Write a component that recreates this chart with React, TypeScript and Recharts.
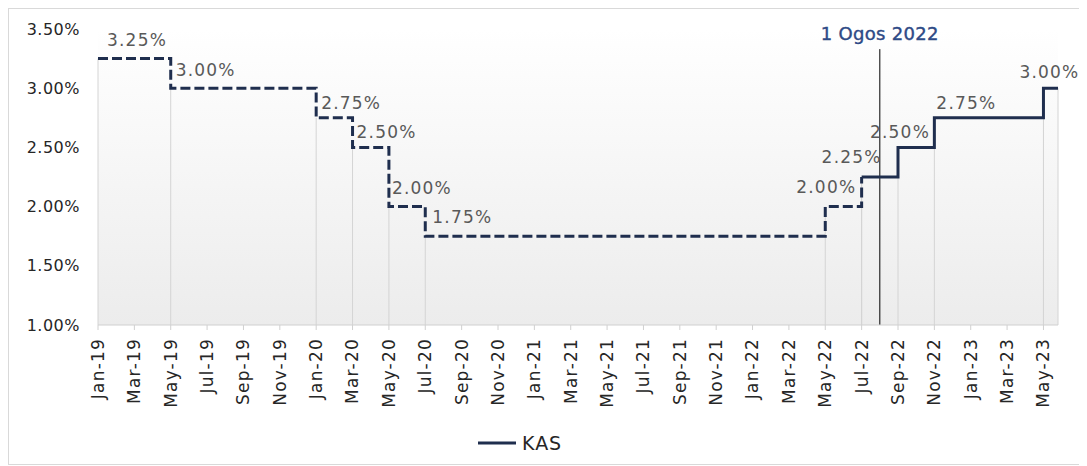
import React from 'react';
import { LineChart, Line, XAxis, YAxis, CartesianGrid, Legend, ReferenceLine, LabelList } from 'recharts';

// month index counted from Jan-19 (0)
const tickLabels = [
  'Jan-19', 'Mar-19', 'May-19', 'Jul-19', 'Sep-19', 'Nov-19',
  'Jan-20', 'Mar-20', 'May-20', 'Jul-20', 'Sep-20', 'Nov-20',
  'Jan-21', 'Mar-21', 'May-21', 'Jul-21', 'Sep-21', 'Nov-21',
  'Jan-22', 'Mar-22', 'May-22', 'Jul-22', 'Sep-22', 'Nov-22',
  'Jan-23', 'Mar-23', 'May-23',
];
const tickMonths = tickLabels.map((_, i) => i * 2);
const rateTicks = [1, 1.5, 2, 2.5, 3, 3.5];

const pastMonths = [0, 4, 12, 14, 16, 18, 40, 42];
const pastRates = [3.25, 3.0, 2.75, 2.5, 2.0, 1.75, 2.0, 2.25];

const currentMonths = [42, 44, 46, 52, 52.8];
const currentRates = [2.25, 2.5, 2.75, 3.0, 3.0];

const markerMonth = 43;
const markerTop = 3.33;
const markerLabel = '1 Ogos 2022';
const seriesName = 'KAS';

const pastData = pastMonths.map((m, i) => ({ m, r: pastRates[i] }));
const currentData = currentMonths.map((m, i) => ({ m, r: currentRates[i] }));
const allPoints = [...pastData, ...currentData];

const navy = '#1f2e4e';
const font = '"DejaVu Sans", Verdana, sans-serif';

// where each value label sits relative to its step
const pastLabelPos = [
  { dx: 9, dy: -19, anchor: 'start' },
  { dx: 5, dy: -18, anchor: 'start' },
  { dx: 5, dy: -15, anchor: 'start' },
  { dx: 4, dy: -15, anchor: 'start' },
  { dx: 3, dy: -19, anchor: 'start' },
  { dx: 7, dy: -19, anchor: 'start' },
  { dx: 31, dy: -20, anchor: 'end' },
  { dx: 20, dy: -20, anchor: 'end' },
];
const currentLabelPos = [
  null,
  { dx: 2, dy: -15, anchor: 'middle' },
  { dx: 2, dy: -15, anchor: 'start' },
  { dx: 6, dy: -16, anchor: 'middle' },
  null,
];

const makeLabel = (positions: any[]) => (props: any) => {
  const { x, y, value, index } = props;
  const p = positions[index];
  if (!p) return null;
  return (
    <text
      x={x + p.dx}
      y={y + p.dy}
      textAnchor={p.anchor}
      dominantBaseline="central"
      fontFamily={font}
      fontSize={17}
      letterSpacing={1.2}
      fill="#595959"
    >
      {`${Number(value).toFixed(2)}%`}
    </text>
  );
};

const MonthTick = (props: any) => {
  const { x, y, payload } = props;
  const label = tickLabels[Math.round(payload.value / 2)];
  return (
    <text
      x={x}
      y={y}
      transform={`rotate(-90, ${x}, ${y})`}
      textAnchor="end"
      dy="0.35em"
      fontFamily={font}
      fontSize={17}
      letterSpacing={1.2}
      fill="#262626"
    >
      {label}
    </text>
  );
};

const renderLegend = () => (
  <div
    style={{
      paddingLeft: 469,
      paddingTop: 8,
      display: 'flex',
      alignItems: 'center',
      fontFamily: font,
      fontSize: 19,
      letterSpacing: 1,
      color: '#262626',
      height: 22,
    }}
  >
    <svg width={38} height={10}>
      <line x1={0} y1={5} x2={38} y2={5} stroke={navy} strokeWidth={3} />
    </svg>
    <span style={{ marginLeft: 6 }}>{seriesName}</span>
  </div>
);

const App: React.FC = () => {
  return (
    <div style={{ width: 1077, height: 455, border: '1px solid #d9d9d9', background: '#ffffff' }}>
      <LineChart width={1077} height={455} margin={{ top: 20, right: 28, left: 0, bottom: 0 }}>
        <defs>
          <linearGradient id="plotBg" x1="0" y1="0" x2="0" y2="1">
            <stop offset="0%" stopColor="#ffffff" />
            <stop offset="100%" stopColor="#ececec" />
          </linearGradient>
        </defs>
        <CartesianGrid horizontal={false} vertical={false} fill="url(#plotBg)" />
        <XAxis
          type="number"
          dataKey="m"
          domain={[0, 52.8]}
          ticks={tickMonths}
          interval={0}
          allowDataOverflow
          height={99}
          tickSize={5}
          tickMargin={8}
          stroke="#d0d0d0"
          tick={<MonthTick />}
        />
        <YAxis
          type="number"
          domain={[1, 3.5]}
          ticks={rateTicks}
          width={89}
          axisLine={false}
          tickLine={false}
          tickMargin={12}
          tickFormatter={(v: number) => `${v.toFixed(2)}%`}
          tick={{ fill: '#262626', fontSize: 16, fontFamily: font, letterSpacing: 0.5 }}
        />
        {allPoints.map((p, i) => (
          <ReferenceLine
            key={`drop-${i}`}
            segment={[{ x: p.m, y: 1 }, { x: p.m, y: p.r }]}
            stroke="#d4d4d4"
            strokeWidth={1}
          />
        ))}
        <ReferenceLine
          segment={[{ x: markerMonth, y: 1 }, { x: markerMonth, y: markerTop }]}
          stroke="#000000"
          strokeWidth={1}
          label={{
            value: markerLabel,
            position: 'top',
            offset: 9,
            fill: '#2e4a86',
            stroke: '#2e4a86',
            strokeWidth: 0.4,
            fontSize: 18,
            letterSpacing: 0.3,
            fontFamily: font,
          }}
        />
        <Line
          data={pastData}
          dataKey="r"
          type="stepAfter"
          stroke={navy}
          strokeWidth={3}
          strokeDasharray="10 4"
          dot={false}
          isAnimationActive={false}
          legendType="none"
        >
          <LabelList dataKey="r" content={makeLabel(pastLabelPos)} />
        </Line>
        <Line
          data={currentData}
          dataKey="r"
          name={seriesName}
          type="stepAfter"
          stroke={navy}
          strokeWidth={3}
          dot={false}
          isAnimationActive={false}
        >
          <LabelList dataKey="r" content={makeLabel(currentLabelPos)} />
        </Line>
        <Legend
          verticalAlign="bottom"
          content={renderLegend}
          wrapperStyle={{ left: 0, width: 1077, height: 40 }}
        />
      </LineChart>
    </div>
  );
};

export default App;
